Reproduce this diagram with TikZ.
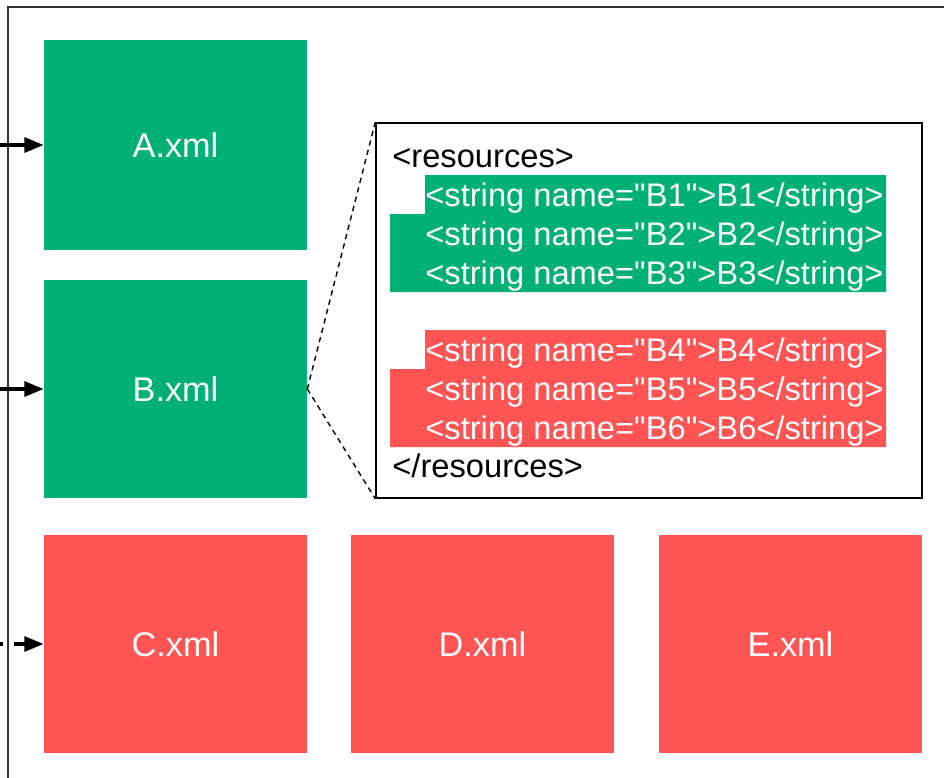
\documentclass[tikz,border=0pt]{standalone}
\usepackage{fontspec}
\setmainfont{Liberation Sans}[Ligatures=TeXOff]
\usetikzlibrary{arrows.meta}
\definecolor{xmlgreen}{HTML}{00B074}
\definecolor{xmlred}{HTML}{FF5454}
\definecolor{framegray}{HTML}{333333}
\begin{document}
\begin{tikzpicture}[
    x=0.02cm, y=-0.02cm,
    % file boxes
    filebox/.style={fill=#1, inner sep=0pt, minimum width=5.26cm, text=white, font=\fontsize{19.5}{23}\selectfont},
    codebox/.style={draw=black, line width=0.9pt, inner sep=0pt, minimum width=10.92cm, minimum height=7.5cm},
    codetext/.style={inner sep=0pt, anchor=base west, font=\fontsize{18.6}{22}\selectfont},
    feed/.style={-{Triangle[length=11pt,width=8.5pt]}, line width=1.9pt, black},
    zoomline/.style={dashed, dash pattern=on 3pt off 2.5pt, line width=0.8pt, black},
]
\useasboundingbox (0,0) rectangle (944,778);

% ========== outer frame ==========
\draw[line width=1.6pt, framegray] (8,778) -- (8,7) -- (944,7);

% ========== file boxes ==========
\node[filebox=xmlgreen, minimum height=4.2cm] (axml) at (175.5,145) {A.xml};
\node[filebox=xmlgreen, minimum height=4.36cm] (bxml) at (175.5,389) {B.xml};
\node[filebox=xmlred, minimum height=4.36cm] (cxml) at (175.5,644) {C.xml};
\node[filebox=xmlred, minimum height=4.36cm] (dxml) at (482.5,644) {D.xml};
\node[filebox=xmlred, minimum height=4.36cm] (exml) at (790.5,644) {E.xml};

% incoming arrows
\coordinate (ina) at (0,145);
\coordinate (inb) at (0,389);
\coordinate (inc) at (0,644);
\draw[feed] (ina) -- (axml.west);
\draw[feed] (inb) -- (bxml.west);
\draw[feed, dash pattern=on 7pt off 6pt, dash phase=5.3pt] (inc) -- (cxml.west);

% ========== content of B.xml ==========
\node[codebox] (code) at (649,310.5) {};
\draw[zoomline] (bxml.east) -- (code.north west);
\draw[zoomline] (bxml.east) -- (code.south west);

% highlighted groups
\fill[xmlgreen] (425,175) -- (886,175) -- (886,292) -- (390,292) -- (390,214) -- (425,214) -- cycle;
\fill[xmlred] (425,330) -- (886,330) -- (886,447) -- (390,447) -- (390,369) -- (425,369) -- cycle;

\node[codetext] (resopen) at (392,167) {<resources>};
\foreach \n [count=\k from 0] in {B1,B2,B3}
    \node[codetext, text=white] (line\n) at (425,206+39*\k) {<string name="\n">\n</string>};
\foreach \n [count=\k from 0] in {B4,B5,B6}
    \node[codetext, text=white] (line\n) at (425,361+39*\k) {<string name="\n">\n</string>};
\node[codetext] (resclose) at (392,477) {</resources>};

\end{tikzpicture}
\end{document}
